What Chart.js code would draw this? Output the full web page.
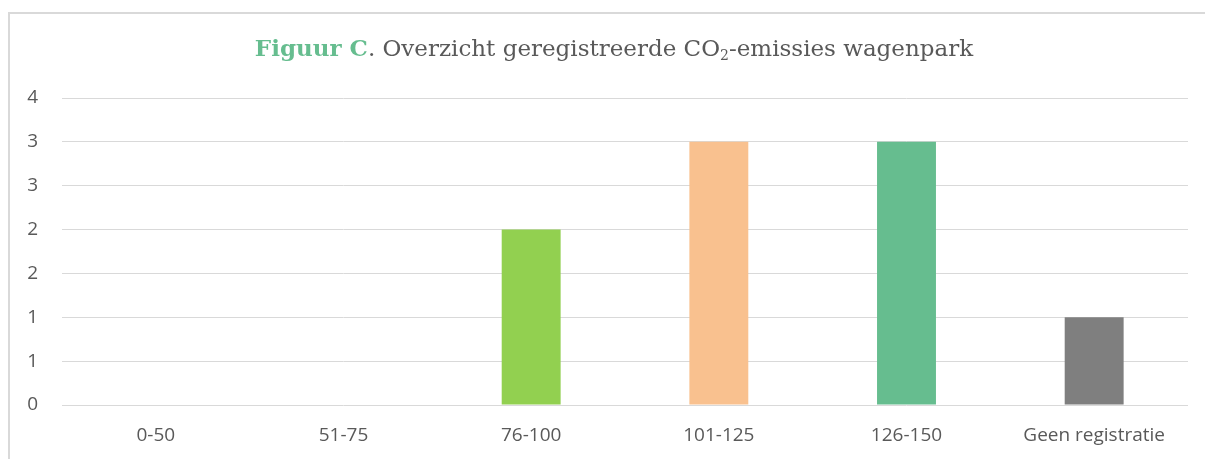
<!DOCTYPE html>
<html>
<head>
<meta charset="utf-8">
<script src="https://cdn.jsdelivr.net/npm/chart.js@4/dist/chart.umd.min.js"></script>
<style>
  html, body { margin: 0; padding: 0; background: #fff; }
  #wrap { position: relative; width: 1205px; height: 459px; overflow: hidden; }
  #frame { position: absolute; left: 8px; top: 12px; width: 1300px; height: 500px;
           border-left: 2px solid #d9d9d9; border-top: 2px solid #d9d9d9; }
  #title { position: absolute; left: 0; width: 1228px; top: 34px; text-align: center;
           font-family: "DejaVu Serif", serif; font-size: 23px; color: #595959; white-space: nowrap; }
  #title b { color: #66bd8f; }
  #title sub { font-size: 14px; vertical-align: -4px; }
  canvas { position: absolute; left: 0; top: 0; }
</style>
</head>
<body>
<div id="wrap">
  <div id="frame"></div>
  <canvas id="chart" width="1205" height="459"></canvas>
  <div id="title"><b>Figuur C</b>. Overzicht geregistreerde CO<sub>2</sub>-emissies wagenpark</div>
</div>
<script>
const categories = ["0-50", "51-75", "76-100", "101-125", "126-150", "Geen registratie"];
const counts = [0, 0, 2, 3, 3, 1];
const barColors = ["#4472c4", "#ed7d31", "#92d050", "#f9c18f", "#66bd8f", "#7f7f7f"];

const ctx = document.getElementById('chart').getContext('2d');

new Chart(ctx, {
    type: 'bar',
    data: {
        labels: categories,
        datasets: [{
            data: counts,
            backgroundColor: barColors,
            categoryPercentage: 1,
            barPercentage: 0.314
        }]
    },
    options: {
        responsive: false,
        animation: false,
        layout: { padding: { top: 98, right: 17, left: 0, bottom: 0 } },
        plugins: { legend: { display: false }, title: { display: false }, tooltip: { enabled: false } },
        scales: {
            x: {
                grid: { display: false, drawTicks: false },
                border: { display: false },
                ticks: { color: '#595959', padding: 19, font: { family: 'Open Sans', size: 19 } },
                afterFit: (s) => { s.height = 54; }
            },
            y: {
                min: 0,
                max: 3.5,
                grid: { color: '#d9d9d9', drawTicks: false },
                border: { display: false },
                ticks: {
                    stepSize: 0.5,
                    padding: 24,
                    color: '#595959',
                    font: { family: 'Open Sans', size: 19 },
                    callback: (v) => Math.round(v).toString()
                },
                afterFit: (s) => { s.width = 62; }
            }
        }
    }
});
</script>
</body>
</html>
